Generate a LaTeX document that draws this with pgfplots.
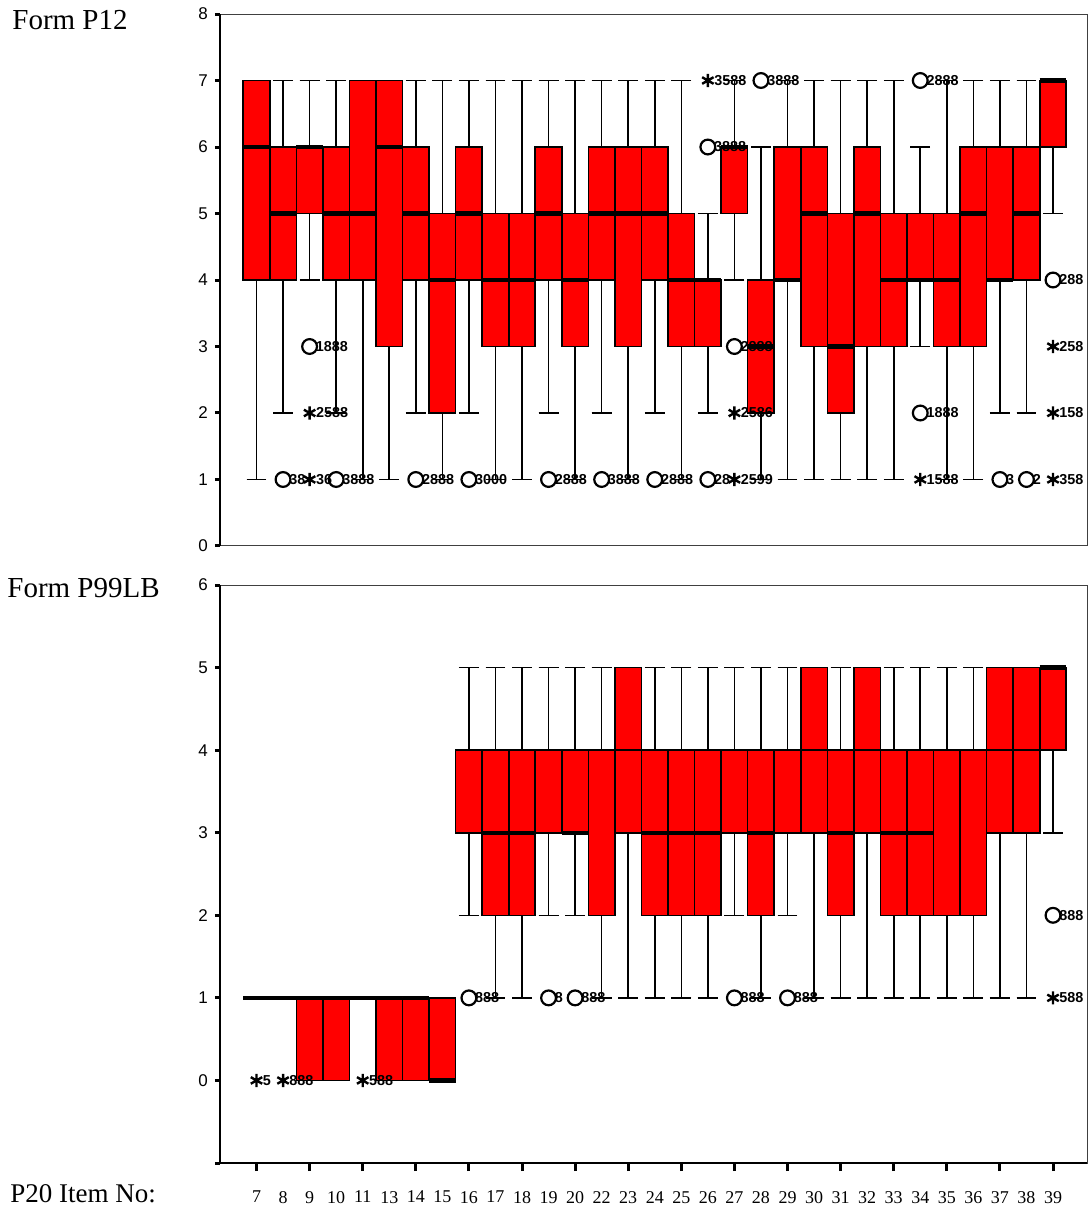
\documentclass[border=0pt]{standalone}
\usepackage{fontspec}
\setmainfont{Liberation Serif}
\newfontfamily\sansf{Liberation Sans}
\usepackage{pgfplots}
\pgfplotsset{compat=1.18}
\usepgfplotslibrary{statistics}
\newcommand{\labfont}{\sansf\bfseries\fontsize{7.2}{7.2}\selectfont}
\pgfplotsset{
  bx/.style={draw=black, fill=red, line width=0.8pt, solid, mark=none,
    boxplot/draw direction=y, boxplot/box extend=1, boxplot/whisker extend=0.75,
    boxplot/every median/.style={line width=2.2pt}},
  thinmed/.style={boxplot/every median/.style={line width=1.1pt}},
  oc/.style={only marks, mark=o, mark size=3.7pt,
    mark options={line width=1.1pt, fill=white, draw=black},
    point meta=explicit symbolic, nodes near coords,
    every node near coord/.append style={anchor=west, xshift=2.6pt, inner sep=0pt, font=\labfont, text=black}},
  os/.style={only marks, mark=asterisk, mark size=3.3pt,
    mark options={line width=1.2pt, draw=black},
    point meta=explicit symbolic, nodes near coords,
    every node near coord/.append style={anchor=west, xshift=2.6pt, inner sep=0pt, font=\labfont, text=black}},
  common/.style={scale only axis, width=433.5pt, xmin=-1.375, xmax=31.28,
    axis line style={line width=0.5pt, black!75},
    tick align=outside, ytick pos=left, major tick length=2.5pt,
    tick style={line width=1.5pt, black},
    yticklabel style={font=\sansf\fontsize{8.5}{10}\selectfont},
    /pgf/number format/assume math mode=true, clip=false},
}
\begin{document}
\begin{tikzpicture}
\useasboundingbox (0,0) rectangle (544pt,-603.5pt);
% ---------------- Form P12 ----------------
\begin{axis}[common, at={(110pt,-7pt)}, anchor=north west, height=266pt,
  ymin=0, ymax=8, ytick={0,...,8}, xtick=\empty]
\addplot[bx, boxplot prepared={draw position=0, lower whisker=1, lower quartile=4, median=6, upper quartile=7, upper whisker=7}] coordinates {};
\addplot[bx, boxplot prepared={draw position=1, lower whisker=2, lower quartile=4, median=5, upper quartile=6, upper whisker=7}] coordinates {};
\addplot[bx, boxplot prepared={draw position=2, lower whisker=4, lower quartile=5, median=6, upper quartile=6, upper whisker=7}] coordinates {};
\addplot[bx, boxplot prepared={draw position=3, lower whisker=2, lower quartile=4, median=5, upper quartile=6, upper whisker=7}] coordinates {};
\addplot[bx, boxplot prepared={draw position=4, lower whisker=1, lower quartile=4, median=5, upper quartile=7, upper whisker=7}] coordinates {};
\addplot[bx, boxplot prepared={draw position=5, lower whisker=1, lower quartile=3, median=6, upper quartile=7, upper whisker=7}] coordinates {};
\addplot[bx, boxplot prepared={draw position=6, lower whisker=2, lower quartile=4, median=5, upper quartile=6, upper whisker=7}] coordinates {};
\addplot[bx, boxplot prepared={draw position=7, lower whisker=1, lower quartile=2, median=4, upper quartile=5, upper whisker=7}] coordinates {};
\addplot[bx, boxplot prepared={draw position=8, lower whisker=2, lower quartile=4, median=5, upper quartile=6, upper whisker=7}] coordinates {};
\addplot[bx, boxplot prepared={draw position=9, lower whisker=1, lower quartile=3, median=4, upper quartile=5, upper whisker=7}] coordinates {};
\addplot[bx, boxplot prepared={draw position=10, lower whisker=1, lower quartile=3, median=4, upper quartile=5, upper whisker=7}] coordinates {};
\addplot[bx, boxplot prepared={draw position=11, lower whisker=2, lower quartile=4, median=5, upper quartile=6, upper whisker=7}] coordinates {};
\addplot[bx, boxplot prepared={draw position=12, lower whisker=1, lower quartile=3, median=4, upper quartile=5, upper whisker=7}] coordinates {};
\addplot[bx, boxplot prepared={draw position=13, lower whisker=2, lower quartile=4, median=5, upper quartile=6, upper whisker=7}] coordinates {};
\addplot[bx, boxplot prepared={draw position=14, lower whisker=1, lower quartile=3, median=5, upper quartile=6, upper whisker=7}] coordinates {};
\addplot[bx, boxplot prepared={draw position=15, lower whisker=2, lower quartile=4, median=5, upper quartile=6, upper whisker=7}] coordinates {};
\addplot[bx, boxplot prepared={draw position=16, lower whisker=1, lower quartile=3, median=4, upper quartile=5, upper whisker=7}] coordinates {};
\addplot[bx, boxplot prepared={draw position=17, lower whisker=2, lower quartile=3, median=4, upper quartile=4, upper whisker=5}] coordinates {};
\addplot[bx, boxplot prepared={draw position=18, lower whisker=4, lower quartile=5, median=6, upper quartile=6, upper whisker=7}] coordinates {};
\addplot[bx, boxplot prepared={draw position=19, lower whisker=1, lower quartile=2, median=3, upper quartile=4, upper whisker=6}] coordinates {};
\addplot[bx, boxplot prepared={draw position=20, lower whisker=1, lower quartile=4, median=4, upper quartile=6, upper whisker=7}] coordinates {};
\addplot[bx, boxplot prepared={draw position=21, lower whisker=1, lower quartile=3, median=5, upper quartile=6, upper whisker=7}] coordinates {};
\addplot[bx, boxplot prepared={draw position=22, lower whisker=1, lower quartile=2, median=3, upper quartile=5, upper whisker=7}] coordinates {};
\addplot[bx, boxplot prepared={draw position=23, lower whisker=1, lower quartile=3, median=5, upper quartile=6, upper whisker=7}] coordinates {};
\addplot[bx, boxplot prepared={draw position=24, lower whisker=1, lower quartile=3, median=4, upper quartile=5, upper whisker=7}] coordinates {};
\addplot[bx, boxplot prepared={draw position=25, lower whisker=3, lower quartile=4, median=4, upper quartile=5, upper whisker=6}] coordinates {};
\addplot[bx, boxplot prepared={draw position=26, lower whisker=1, lower quartile=3, median=4, upper quartile=5, upper whisker=7}] coordinates {};
\addplot[bx, boxplot prepared={draw position=27, lower whisker=1, lower quartile=3, median=5, upper quartile=6, upper whisker=7}] coordinates {};
\addplot[bx, boxplot prepared={draw position=28, lower whisker=2, lower quartile=4, median=4, upper quartile=6, upper whisker=7}] coordinates {};
\addplot[bx, boxplot prepared={draw position=29, lower whisker=2, lower quartile=4, median=5, upper quartile=6, upper whisker=7}] coordinates {};
\addplot[bx, boxplot prepared={draw position=30, lower whisker=5, lower quartile=6, median=7, upper quartile=7, upper whisker=7}] coordinates {};
% outliers
\addplot[os] coordinates {(2,2) [2588] (2,1) [36] (17,7) [3588] (18,2) [2586] (18,1) [2599] (25,1) [1588] (30,3) [258] (30,2) [158] (30,1) [358]};
\addplot[oc] coordinates {(1,1) [38] (2,3) [1888] (3,1) [3888] (6,1) [2888] (8,1) [3000] (11,1) [2888] (13,1) [3888] (15,1) [2888] (17,6) [3888] (17,1) [28] (18,3) [2888] (19,7) [3888] (25,7) [2888] (25,2) [1888] (28,1) [3] (29,1) [2] (30,4) [288]};
\draw[line width=1.2pt] (rel axis cs:0,0) -- (rel axis cs:0,1);
\end{axis}
% ---------------- Form P99LB ----------------
\begin{axis}[common, at={(110pt,-292.5pt)}, anchor=north west, height=289pt,
  ymin=-1, ymax=6, ytick={-1,...,6}, yticklabels={,0,1,2,3,4,5,6},
  xtick={0,...,30}, xtick pos=bottom,
  xticklabels={7,8,9,10,11,13,14,15,16,17,18,19,20,22,23,24,25,26,27,28,29,30,31,32,33,34,35,36,37,38,39},
  xticklabel style={font=\fontsize{9}{10}\selectfont, yshift=-8pt},
  major x tick style={draw=none},
  minor xtick={0,2,...,30}, minor tick length=4pt,
  minor x tick style={draw=black, line width=1.5pt}]
\addplot[bx, boxplot prepared={draw position=0, lower whisker=1, lower quartile=1, median=1, upper quartile=1, upper whisker=1}] coordinates {};
\addplot[bx, boxplot prepared={draw position=1, lower whisker=1, lower quartile=1, median=1, upper quartile=1, upper whisker=1}] coordinates {};
\addplot[bx, boxplot prepared={draw position=2, lower whisker=0, lower quartile=0, median=1, upper quartile=1, upper whisker=1}] coordinates {};
\addplot[bx, boxplot prepared={draw position=3, lower whisker=0, lower quartile=0, median=1, upper quartile=1, upper whisker=1}] coordinates {};
\addplot[bx, boxplot prepared={draw position=4, lower whisker=1, lower quartile=1, median=1, upper quartile=1, upper whisker=1}] coordinates {};
\addplot[bx, boxplot prepared={draw position=5, lower whisker=0, lower quartile=0, median=1, upper quartile=1, upper whisker=1}] coordinates {};
\addplot[bx, boxplot prepared={draw position=6, lower whisker=0, lower quartile=0, median=1, upper quartile=1, upper whisker=1}] coordinates {};
\addplot[bx, boxplot prepared={draw position=7, lower whisker=0, lower quartile=0, median=0, upper quartile=1, upper whisker=1}] coordinates {};
\addplot[bx, thinmed, boxplot prepared={draw position=8, lower whisker=2, lower quartile=3, median=4, upper quartile=4, upper whisker=5}] coordinates {};
\addplot[bx, boxplot prepared={draw position=9, lower whisker=1, lower quartile=2, median=3, upper quartile=4, upper whisker=5}] coordinates {};
\addplot[bx, boxplot prepared={draw position=10, lower whisker=1, lower quartile=2, median=3, upper quartile=4, upper whisker=5}] coordinates {};
\addplot[bx, thinmed, boxplot prepared={draw position=11, lower whisker=2, lower quartile=3, median=4, upper quartile=4, upper whisker=5}] coordinates {};
\addplot[bx, boxplot prepared={draw position=12, lower whisker=2, lower quartile=3, median=3, upper quartile=4, upper whisker=5}] coordinates {};
\addplot[bx, thinmed, boxplot prepared={draw position=13, lower whisker=1, lower quartile=2, median=4, upper quartile=4, upper whisker=5}] coordinates {};
\addplot[bx, thinmed, boxplot prepared={draw position=14, lower whisker=1, lower quartile=3, median=4, upper quartile=5, upper whisker=5}] coordinates {};
\addplot[bx, boxplot prepared={draw position=15, lower whisker=1, lower quartile=2, median=3, upper quartile=4, upper whisker=5}] coordinates {};
\addplot[bx, boxplot prepared={draw position=16, lower whisker=1, lower quartile=2, median=3, upper quartile=4, upper whisker=5}] coordinates {};
\addplot[bx, boxplot prepared={draw position=17, lower whisker=1, lower quartile=2, median=3, upper quartile=4, upper whisker=5}] coordinates {};
\addplot[bx, thinmed, boxplot prepared={draw position=18, lower whisker=2, lower quartile=3, median=4, upper quartile=4, upper whisker=5}] coordinates {};
\addplot[bx, boxplot prepared={draw position=19, lower whisker=1, lower quartile=2, median=3, upper quartile=4, upper whisker=5}] coordinates {};
\addplot[bx, thinmed, boxplot prepared={draw position=20, lower whisker=2, lower quartile=3, median=4, upper quartile=4, upper whisker=5}] coordinates {};
\addplot[bx, thinmed, boxplot prepared={draw position=21, lower whisker=1, lower quartile=3, median=4, upper quartile=5, upper whisker=5}] coordinates {};
\addplot[bx, boxplot prepared={draw position=22, lower whisker=1, lower quartile=2, median=3, upper quartile=4, upper whisker=5}] coordinates {};
\addplot[bx, thinmed, boxplot prepared={draw position=23, lower whisker=1, lower quartile=3, median=4, upper quartile=5, upper whisker=5}] coordinates {};
\addplot[bx, boxplot prepared={draw position=24, lower whisker=1, lower quartile=2, median=3, upper quartile=4, upper whisker=5}] coordinates {};
\addplot[bx, boxplot prepared={draw position=25, lower whisker=1, lower quartile=2, median=3, upper quartile=4, upper whisker=5}] coordinates {};
\addplot[bx, thinmed, boxplot prepared={draw position=26, lower whisker=1, lower quartile=2, median=4, upper quartile=4, upper whisker=5}] coordinates {};
\addplot[bx, thinmed, boxplot prepared={draw position=27, lower whisker=1, lower quartile=2, median=4, upper quartile=4, upper whisker=5}] coordinates {};
\addplot[bx, thinmed, boxplot prepared={draw position=28, lower whisker=1, lower quartile=3, median=4, upper quartile=5, upper whisker=5}] coordinates {};
\addplot[bx, thinmed, boxplot prepared={draw position=29, lower whisker=1, lower quartile=3, median=4, upper quartile=5, upper whisker=5}] coordinates {};
\addplot[bx, boxplot prepared={draw position=30, lower whisker=3, lower quartile=4, median=5, upper quartile=5, upper whisker=5}] coordinates {};
% outliers
\addplot[os] coordinates {(0,0) [5] (1,0) [888] (4,0) [588] (30,1) [588]};
\addplot[oc] coordinates {(8,1) [888] (11,1) [8] (12,1) [888] (18,1) [888] (20,1) [888] (30,2) [888]};
\draw[line width=1.2pt] (rel axis cs:0,0) -- (rel axis cs:0,1);
\draw[line width=1.2pt] (rel axis cs:0,0) -- (rel axis cs:1,0);
\end{axis}
\node[anchor=base west, inner sep=0pt, font=\fontsize{14.5}{16}\selectfont] at (6pt,-14.5pt) {Form P12};
\node[anchor=base west, inner sep=0pt, font=\fontsize{14.5}{16}\selectfont] at (3.5pt,-298.5pt) {Form P99LB};
\node[anchor=base west, inner sep=0pt, font=\fontsize{13.5}{15}\selectfont] at (5pt,-601pt) {P20 Item No:};
\end{tikzpicture}
\end{document}
